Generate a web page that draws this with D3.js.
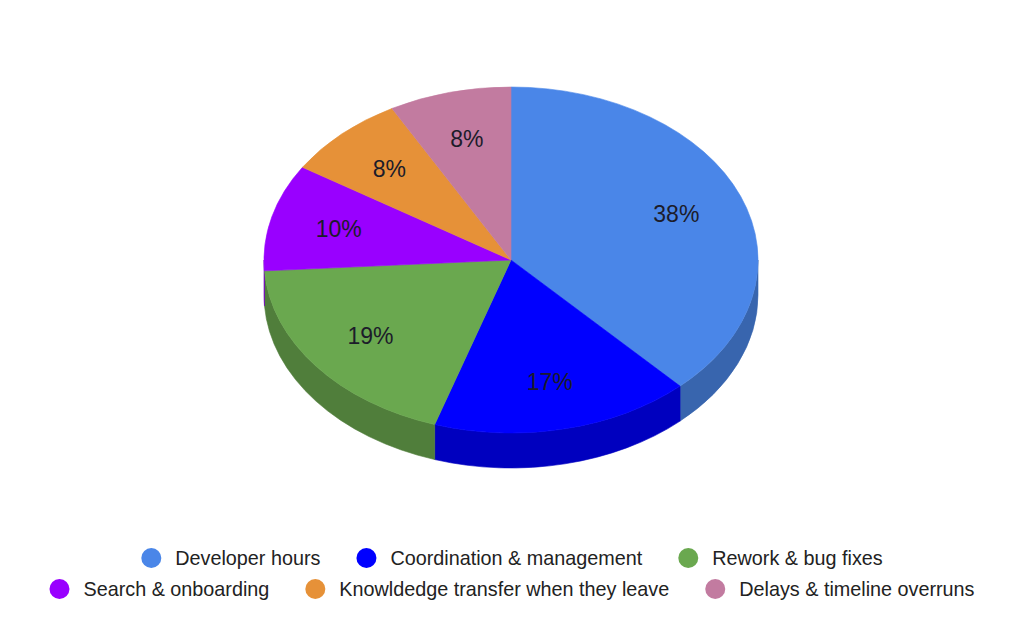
<!DOCTYPE html>
<html>
<head>
<meta charset="utf-8">
<title>3D Pie</title>
<script src="https://cdn.jsdelivr.net/npm/d3@7"></script>
<style>
  body { margin: 0; background: #fff; }
  text { font-family: Arial, "Liberation Sans", sans-serif; }
</style>
</head>
<body>
<script>
// data
const categories = ["Developer hours", "Coordination & management", "Rework & bug fixes",
  "Search & onboarding", "Knowldedge transfer when they leave", "Delays & timeline overruns"];
const values = [38, 17, 19, 10, 8, 8];
const colorList = ["#4a86e8", "#0000ff", "#6aa84f", "#9900ff", "#e69138", "#c27ba0"];
const legendRows = [[0, 1, 2], [3, 4, 5]];

const W = 1024, H = 633;
const cx = 511, cy = 260, rx = 247, ry = 173, depth = 35;
const k = ry / rx; // vertical squash

const svg = d3.select("body").append("svg")
  .attr("width", W).attr("height", H);

const color = d3.scaleOrdinal().domain(categories).range(colorList);
const darker = c => { const r = d3.rgb(c); return d3.rgb(r.r * 0.75, r.g * 0.75, r.b * 0.75).toString(); };

const pie = d3.pie().sort(null).value(d => d.v);
const slices = pie(categories.map((c, i) => ({ c, v: values[i] })));
const total = d3.sum(values);

// everything drawn in circle space then squashed
const g = svg.append("g").attr("transform", `translate(${cx},${cy}) scale(1,${k})`);

// side walls (front half only: angles between PI/2 and 3PI/2)
const dd = depth / k;
slices.forEach(s => {
  const a0 = Math.max(s.startAngle, Math.PI / 2);
  const a1 = Math.min(s.endAngle, Math.PI * 3 / 2);
  if (a1 <= a0) return;
  const p = d3.path();
  const t0 = a0 - Math.PI / 2, t1 = a1 - Math.PI / 2;
  p.moveTo(rx * Math.cos(t0), rx * Math.sin(t0));
  p.arc(0, 0, rx, t0, t1);
  p.lineTo(rx * Math.cos(t1), dd + rx * Math.sin(t1));
  p.arc(0, dd, rx, t1, t0, true);
  p.closePath();
  const c = darker(color(s.data.c));
  g.append("path").attr("d", p.toString())
    .attr("fill", c).attr("stroke", c).attr("stroke-width", 0.6)
    .attr("vector-effect", "non-scaling-stroke");
});

// top faces
const arc = d3.arc().innerRadius(0).outerRadius(rx);
g.selectAll(".top")
  .data(slices)
  .join("path")
  .attr("class", "top")
  .attr("d", arc)
  .attr("fill", d => color(d.data.c))
  .attr("stroke", d => color(d.data.c))
  .attr("stroke-width", 0.6)
  .attr("vector-effect", "non-scaling-stroke");

// percentage labels
const labelArc = d3.arc().innerRadius(rx * 0.72).outerRadius(rx * 0.72);
svg.append("g").selectAll("text")
  .data(slices)
  .join("text")
  .attr("x", d => cx + labelArc.centroid(d)[0])
  .attr("y", d => cy + labelArc.centroid(d)[1] * k)
  .attr("text-anchor", "middle")
  .attr("dominant-baseline", "central")
  .attr("fill", "#1c1c2a")
  .style("font-size", "23px")
  .text(d => Math.round(d.data.v / total * 100) + "%");

// legend
const rowY = [558, 589];
const legend = svg.append("g");
legendRows.forEach((row, ri) => {
  const rg = legend.append("g");
  let x = 0;
  row.forEach(i => {
    rg.append("circle").attr("cx", x + 10).attr("cy", rowY[ri]).attr("r", 10)
      .attr("fill", colorList[i]);
    const t = rg.append("text").attr("x", x + 34).attr("y", rowY[ri])
      .attr("dominant-baseline", "central")
      .attr("fill", "#222")
      .style("font-size", "19.8px")
      .text(categories[i]);
    x += 34 + t.node().getComputedTextLength() + 36;
  });
  const rowW = x - 36;
  rg.attr("transform", `translate(${512 - rowW / 2},0)`);
});
</script>
</body>
</html>
